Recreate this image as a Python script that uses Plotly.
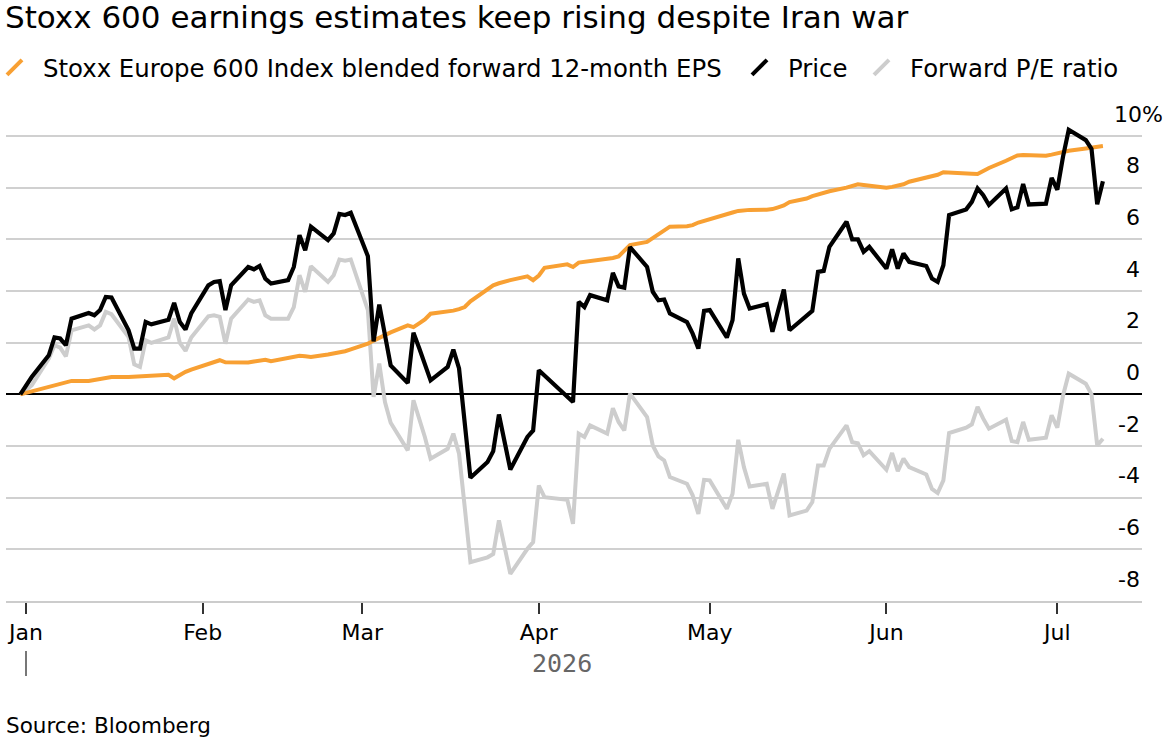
import plotly.graph_objects as go

# ---------------- data ----------------
TITLE = "Stoxx 600 earnings estimates keep rising despite Iran war"
SERIES_NAMES = ["Stoxx Europe 600 Index blended forward 12-month EPS", "Price", "Forward P/E ratio"]

# trading days (day of month) in 2026, preceded by the base date 2025-12-31
jan_days = [2, 5, 6, 7, 8, 9, 12, 13, 14, 15, 16, 19, 20, 21, 22, 23, 26, 27, 28, 29, 30]
feb_days = [2, 3, 4, 5, 6, 9, 10, 11, 12, 13, 16, 17, 18, 19, 20, 23, 24, 25, 26, 27]
mar_days = [2, 3, 4, 5, 6, 9, 10, 11, 12, 13, 16, 17, 18, 19, 20, 23, 24, 25, 26, 27, 30, 31]
apr_days = [1, 2, 6, 7, 8, 9, 10, 13, 14, 15, 16, 17, 20, 21, 22, 23, 24, 27, 28, 29, 30]
may_days = [1, 4, 5, 6, 7, 8, 11, 12, 13, 14, 15, 18, 19, 20, 21, 22, 25, 26, 27, 28, 29]
jun_days = [1, 2, 3, 4, 5, 8, 9, 10, 11, 12, 15, 16, 17, 18, 19, 22, 23, 24, 25, 26, 29, 30]
jul_days = [1, 2, 3, 6, 7, 8, 9]

eps = [0.00,
       0.12, 0.30, 0.36, 0.40, 0.45, 0.52, 0.52, 0.56, 0.60, 0.63, 0.67, 0.67, 0.68, 0.71, 0.72, 0.73, 0.76, 0.62, 0.75, 0.87, 0.96,
       1.17, 1.22, 1.32, 1.24, 1.23, 1.23, 1.27, 1.32, 1.34, 1.28, 1.40, 1.45, 1.49, 1.47, 1.45, 1.54, 1.58, 1.62, 1.67, 1.74,
       1.96, 2.08, 2.20, 2.32, 2.40, 2.67, 2.60, 2.75, 2.90, 3.12, 3.20, 3.24, 3.30, 3.38, 3.60, 4.05, 4.22, 4.30, 4.37, 4.42, 4.57, 4.42,
       4.60, 4.90, 5.03, 4.93, 5.10, 5.13, 5.13, 5.24, 5.28, 5.34, 5.55, 5.78, 5.90, 6.05, 6.18, 6.35, 6.49, 6.51, 6.55, 6.65, 6.72,
       6.80, 6.98, 7.04, 7.10, 7.13, 7.14, 7.15, 7.17, 7.24, 7.31, 7.44, 7.58, 7.67, 7.74, 7.81, 7.86, 8.00, 8.07, 8.13, 8.10, 8.08,
       8.00, 8.03, 8.08, 8.13, 8.23, 8.38, 8.45, 8.50, 8.60, 8.58, 8.55, 8.54, 8.53, 8.65, 8.76, 9.04, 9.15, 9.25, 9.26, 9.26, 9.24, 9.28,
       9.33, 9.39, 9.43, 9.52, 9.55, 9.58, 9.61]

price = [0.00,
         0.67, 1.51, 2.20, 2.16, 1.90, 2.93, 3.15, 3.06, 3.26, 3.77, 3.75, 2.48, 1.77, 1.77, 2.80, 2.71, 2.89, 3.54, 2.80, 2.51, 3.13,
         4.22, 4.35, 4.38, 3.26, 4.22, 4.93, 4.84, 4.97, 4.48, 4.29, 4.42, 4.93, 6.16, 5.58, 6.49, 5.97, 6.23, 6.98, 6.94, 7.03,
         5.35, 2.05, 3.47, 2.30, 1.12, 0.44, 2.38, 1.79, 1.20, 0.54, 1.06, 1.73, 1.00, -1.11, -3.23, -2.62, -2.20, -0.78, -1.91, -2.91, -1.65, -1.40,
         0.93, None, None, -0.30, 3.58, 3.38, 3.84, 3.64, 4.70, 4.18, 4.13, 5.70, 4.93, 3.97, 3.64, 3.67, 3.13, 2.80, 2.35, 1.77, 3.23,
         3.26, 2.20, 2.87, 5.26, 3.90, 3.32, 3.49, 2.42, 3.26, 4.06, 2.48, 3.04, 3.23, 4.74, 4.78, 5.71, 6.68, 6.00, 6.00, 5.52, 5.71,
         4.87, 5.61, 4.87, 5.45, 5.13, 4.97, 4.48, 4.35, 5.00, 6.94, 7.16, 7.45, 7.97, 7.71, 7.33, 7.97, 7.16, 7.24, 8.14, 7.35, 7.38, 8.38,
         7.92, 9.20, 10.24, 9.84, 9.50, 7.36, 8.25]

pe = [0.00,
      0.35, 1.38, 1.90, 1.81, 1.47, 2.48, 2.67, 2.51, 2.67, 3.19, 3.10, 2.22, 1.16, 1.06, 2.09, 1.99, 2.20, 2.93, 1.99, 1.68, 2.20,
      3.02, 3.06, 3.00, 1.96, 2.93, 3.67, 3.58, 3.64, 3.06, 2.93, 2.93, 3.38, 4.61, 3.97, 4.96, 4.35, 4.61, 5.22, 5.17, 5.22,
      3.26, -0.10, 1.19, -0.30, -1.10, -2.17, -0.23, -0.88, -1.65, -2.49, -2.11, -1.52, -2.30, -4.37, -6.50, -6.31, -6.18, -4.88, -5.92, -6.95, -5.98, -5.72,
      -3.53, -3.98, -4.08, -5.01, -1.52, -1.65, -1.20, -1.52, -0.54, -1.07, -1.40, 0.03, -0.88, -1.98, -2.40, -2.56, -3.20, -3.46, -3.91, -4.63, -3.31,
      -3.33, -4.43, -3.85, -1.76, -2.82, -3.57, -3.46, -4.43, -3.72, -3.07, -4.69, -4.50, -4.17, -2.75, -2.75, -2.11, -1.20, -1.85, -1.89, -2.36, -2.20,
      -2.92, -2.27, -2.97, -2.49, -2.82, -3.10, -3.66, -3.82, -3.33, -1.50, -1.29, -1.16, -0.49, -0.94, -1.33, -0.98, -1.81, -1.85, -1.07, -1.76, -1.68, -0.81,
      -1.29, -0.04, 0.80, 0.41, 0.00, -1.98, -1.72]

month_ticks = ["2026-01-01", "2026-02-01", "2026-03-01", "2026-04-01", "2026-05-01", "2026-06-01", "2026-07-01"]
month_labels = ["Jan", "Feb", "Mar", "Apr", "May", "Jun", "Jul"]
y_ticks = [-8, -6, -4, -2, 0, 2, 4, 6, 8, 10]
y_labels = ["-8", "-6", "-4", "-2", "0", "2", "4", "6", "8", "10%"]
YEAR = "2026"
SOURCE = "Source: Bloomberg"

# ---------------- build dates ----------------
dates = ["2025-12-31"]
for m, days in enumerate([jan_days, feb_days, mar_days, apr_days, may_days, jun_days, jul_days], start=1):
    dates += [f"2026-{m:02d}-{d:02d}" for d in days]

# ---------------- style ----------------
ORANGE = "#F8A033"
BLACK = "#000000"
GREY = "#CDCDCD"
COLORS = [ORANGE, BLACK, GREY]
FONT = "DejaVu Sans"

W, H = 1173, 747
M_L, M_R, M_T, M_B = 6, 31, 120, 146
PLOT_W = W - M_L - M_R
PLOT_H = H - M_T - M_B
PX_PER_UNIT = 465 / 18.0
Y_TOP = 10 + (136 - M_T) / PX_PER_UNIT
X_RANGE = ["2025-12-28 11:45", "2026-07-15 20:38"]
LEGEND_IDS = ["legend", "legend2", "legend3"]
LEGEND_X_PX = [0, 731, 853]          # left edge of each legend entry, pixels
LEGEND_INDENT = [-14, 0, 0]


def paper_y(py):
    return (H - M_B - py) / PLOT_H


fig = go.Figure()
fig.add_trace(go.Scatter(x=dates, y=pe, mode="lines", line=dict(color=GREY, width=4),
                         showlegend=False, hoverinfo="skip"))
fig.add_trace(go.Scatter(x=dates, y=eps, mode="lines", line=dict(color=ORANGE, width=4),
                         showlegend=False, hoverinfo="skip"))
fig.add_trace(go.Scatter(x=dates, y=price, mode="lines", line=dict(color=BLACK, width=4.2),
                         connectgaps=True, showlegend=False, hoverinfo="skip"))

# legend entries drawn as diagonal slashes
for name, c, lid in zip(SERIES_NAMES, COLORS, LEGEND_IDS):
    fig.add_trace(go.Scatter(x=[None], y=[None], mode="markers", name=name, legend=lid,
                             marker=dict(symbol="line-ne", size=15, color=c, line=dict(width=4, color=c)),
                             showlegend=True))

annotations = []
for v, lab in zip(y_ticks, y_labels):
    if lab.endswith("%"):
        annotations.append(dict(x=1, xref="paper", y=v, yref="y", text=lab, showarrow=False,
                                xanchor="left", yanchor="middle", xshift=-30, yshift=22,
                                font=dict(size=22, color="#000", family=FONT)))
    else:
        annotations.append(dict(x=1, xref="paper", y=v, yref="y", text=lab, showarrow=False,
                                xanchor="right", yanchor="middle", yshift=22,
                                font=dict(size=22, color="#000", family=FONT)))

annotations.append(dict(x="2026-04-05", xref="x", y=paper_y(663), yref="paper", text=YEAR,
                        showarrow=False, xanchor="center", yanchor="middle",
                        font=dict(size=25, color="#666666", family="DejaVu Sans Mono")))
annotations.append(dict(x=0, xref="paper", y=paper_y(725), yref="paper", text=SOURCE,
                        showarrow=False, xanchor="left", yanchor="middle", xshift=-2,
                        font=dict(size=21.5, color="#000", family=FONT)))

shapes = [dict(type="line", xref="x", yref="paper", x0=month_ticks[0], x1=month_ticks[0],
               y0=paper_y(651), y1=paper_y(676), line=dict(color="#777777", width=2))]

legend_layout = {}
for lid, lx, ind in zip(LEGEND_IDS, LEGEND_X_PX, LEGEND_INDENT):
    legend_layout[lid] = dict(orientation="h", x=lx / W, xanchor="left", xref="container",
                              y=1 - 45 / H, yanchor="top", yref="container", indentation=ind,
                              itemwidth=47, font=dict(size=24.4, color="#000", family=FONT),
                              bgcolor="rgba(0,0,0,0)", traceorder="normal")

fig.update_layout(
    width=W, height=H, autosize=False,
    margin=dict(l=M_L, r=M_R, t=M_T, b=M_B, pad=0),
    paper_bgcolor="white", plot_bgcolor="white",
    font=dict(family=FONT, size=22, color="#000"),
    title=dict(text=TITLE, x=5 / W, xanchor="left", xref="container",
               y=1 - 17.5 / H, yanchor="middle", yref="container",
               font=dict(size=31, color="#000", family=FONT)),
    xaxis=dict(type="date", range=X_RANGE, tickvals=month_ticks, ticktext=month_labels,
               ticks="outside", ticklen=11, tickwidth=1.5, tickcolor="#333333",
               showgrid=False, showline=True, linecolor="#cccccc", linewidth=2,
               zeroline=False, tickfont=dict(size=22, color="#000", family=FONT), fixedrange=True),
    yaxis=dict(range=[-8, Y_TOP], tickvals=y_ticks, showticklabels=False, ticks="",
               showgrid=True, gridcolor="#d0d0d0", gridwidth=1.5,
               zeroline=True, zerolinecolor="#000000", zerolinewidth=1.5,
               showline=False, fixedrange=True),
    annotations=annotations,
    shapes=shapes,
    hovermode=False,
    **legend_layout,
)

fig.write_html("out.html")
